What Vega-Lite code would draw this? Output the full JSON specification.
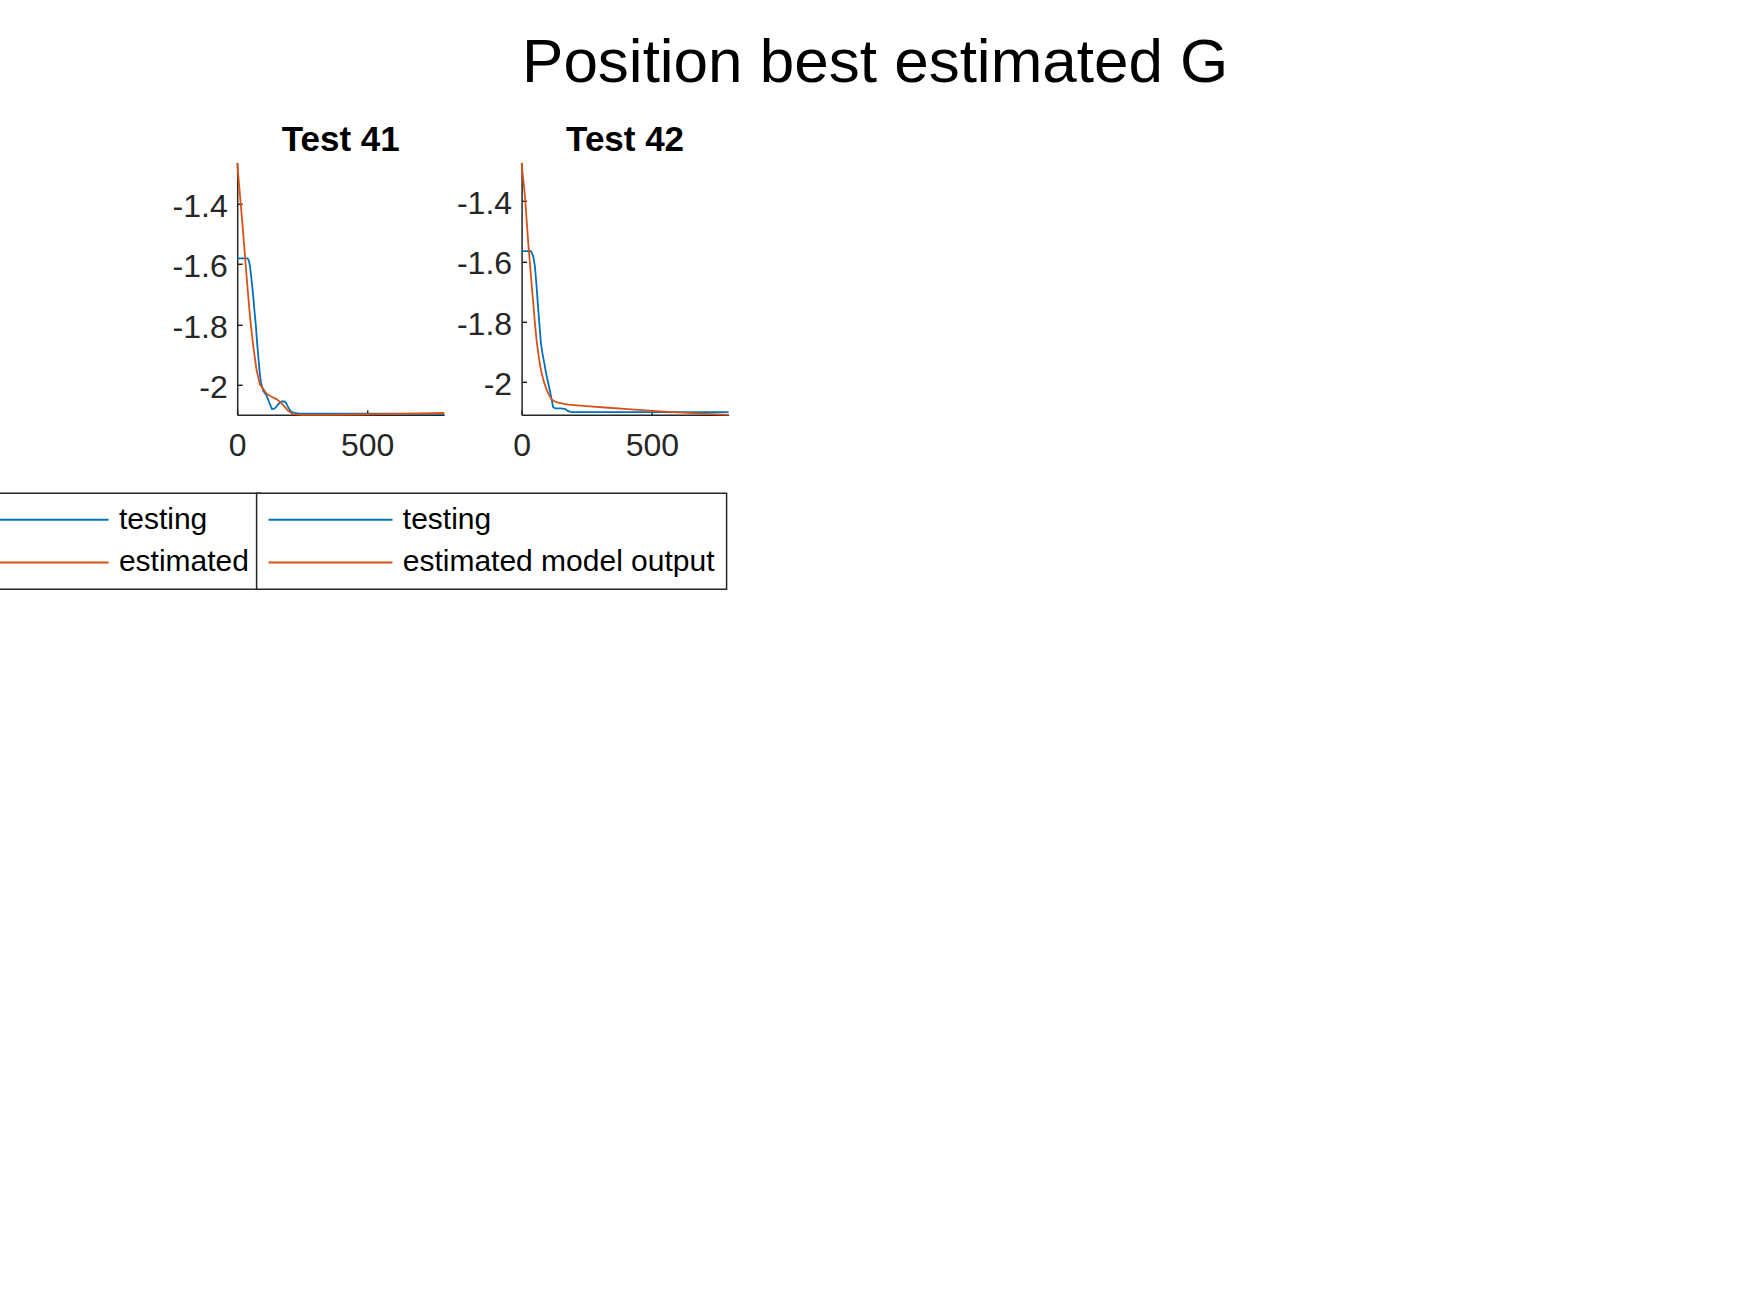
{
  "$schema": "https://vega.github.io/schema/vega-lite/v6.json",
  "autosize": {"type": "pad"},
  "padding": {"left": -28.8, "top": 31.8, "right": 20, "bottom": 20},
  "background": "white",
  "title": {
    "text": "Position best estimated G",
    "font": "Liberation Sans",
    "fontSize": 62,
    "fontWeight": "normal",
    "color": "#000000",
    "anchor": "middle",
    "baseline": "alphabetic",
    "dx": 638,
    "offset": -21.2
  },
  "bounds": "flush",
  "spacing": 77.4,
  "resolve": {
    "scale": {"color": "independent", "x": "independent", "y": "independent"},
    "legend": {"color": "independent"}
  },
  "datasets": {
    "p41": [
      {"x": 0, "y": -1.581, "series": "testing"},
      {"x": 20, "y": -1.581, "series": "testing"},
      {"x": 40, "y": -1.581, "series": "testing"},
      {"x": 45, "y": -1.588, "series": "testing"},
      {"x": 49, "y": -1.606, "series": "testing"},
      {"x": 55, "y": -1.65, "series": "testing"},
      {"x": 61.5, "y": -1.705, "series": "testing"},
      {"x": 67, "y": -1.76, "series": "testing"},
      {"x": 72, "y": -1.805, "series": "testing"},
      {"x": 76, "y": -1.855, "series": "testing"},
      {"x": 81, "y": -1.904, "series": "testing"},
      {"x": 86, "y": -1.955, "series": "testing"},
      {"x": 91, "y": -1.99, "series": "testing"},
      {"x": 100, "y": -2.02, "series": "testing"},
      {"x": 113, "y": -2.035, "series": "testing"},
      {"x": 124, "y": -2.06, "series": "testing"},
      {"x": 134, "y": -2.08, "series": "testing"},
      {"x": 143, "y": -2.079, "series": "testing"},
      {"x": 151, "y": -2.072, "series": "testing"},
      {"x": 160, "y": -2.062, "series": "testing"},
      {"x": 171, "y": -2.055, "series": "testing"},
      {"x": 180, "y": -2.055, "series": "testing"},
      {"x": 187, "y": -2.058, "series": "testing"},
      {"x": 195, "y": -2.072, "series": "testing"},
      {"x": 202, "y": -2.083, "series": "testing"},
      {"x": 209, "y": -2.089, "series": "testing"},
      {"x": 222, "y": -2.093, "series": "testing"},
      {"x": 240, "y": -2.095, "series": "testing"},
      {"x": 300, "y": -2.095, "series": "testing"},
      {"x": 400, "y": -2.095, "series": "testing"},
      {"x": 500, "y": -2.095, "series": "testing"},
      {"x": 600, "y": -2.095, "series": "testing"},
      {"x": 700, "y": -2.096, "series": "testing"},
      {"x": 796, "y": -2.096, "series": "testing"},
      {"x": 0, "y": -1.264, "series": "estimated"},
      {"x": 10, "y": -1.364, "series": "estimated"},
      {"x": 23, "y": -1.496, "series": "estimated"},
      {"x": 36, "y": -1.639, "series": "estimated"},
      {"x": 49, "y": -1.772, "series": "estimated"},
      {"x": 61.5, "y": -1.871, "series": "estimated"},
      {"x": 74, "y": -1.948, "series": "estimated"},
      {"x": 87, "y": -1.998, "series": "estimated"},
      {"x": 100, "y": -2.013, "series": "estimated"},
      {"x": 113, "y": -2.029, "series": "estimated"},
      {"x": 132, "y": -2.039, "series": "estimated"},
      {"x": 151, "y": -2.047, "series": "estimated"},
      {"x": 165, "y": -2.057, "series": "estimated"},
      {"x": 177, "y": -2.067, "series": "estimated"},
      {"x": 196, "y": -2.086, "series": "estimated"},
      {"x": 215, "y": -2.097, "series": "estimated"},
      {"x": 250, "y": -2.099, "series": "estimated"},
      {"x": 350, "y": -2.099, "series": "estimated"},
      {"x": 450, "y": -2.098, "series": "estimated"},
      {"x": 550, "y": -2.097, "series": "estimated"},
      {"x": 650, "y": -2.095, "series": "estimated"},
      {"x": 796, "y": -2.093, "series": "estimated"}
    ],
    "p42": [
      {"x": 0, "y": -1.566, "series": "testing"},
      {"x": 20, "y": -1.566, "series": "testing"},
      {"x": 36, "y": -1.566, "series": "testing"},
      {"x": 44.6, "y": -1.583, "series": "testing"},
      {"x": 51, "y": -1.616, "series": "testing"},
      {"x": 57.4, "y": -1.682, "series": "testing"},
      {"x": 63.8, "y": -1.759, "series": "testing"},
      {"x": 69, "y": -1.815, "series": "testing"},
      {"x": 74, "y": -1.87, "series": "testing"},
      {"x": 80, "y": -1.905, "series": "testing"},
      {"x": 86.7, "y": -1.936, "series": "testing"},
      {"x": 95, "y": -1.975, "series": "testing"},
      {"x": 102, "y": -2.002, "series": "testing"},
      {"x": 109, "y": -2.03, "series": "testing"},
      {"x": 115, "y": -2.057, "series": "testing"},
      {"x": 121, "y": -2.083, "series": "testing"},
      {"x": 130, "y": -2.087, "series": "testing"},
      {"x": 150, "y": -2.087, "series": "testing"},
      {"x": 166, "y": -2.088, "series": "testing"},
      {"x": 178.6, "y": -2.096, "series": "testing"},
      {"x": 191, "y": -2.099, "series": "testing"},
      {"x": 250, "y": -2.099, "series": "testing"},
      {"x": 400, "y": -2.099, "series": "testing"},
      {"x": 600, "y": -2.099, "series": "testing"},
      {"x": 794, "y": -2.099, "series": "testing"},
      {"x": 0, "y": -1.274, "series": "estimated model output"},
      {"x": 12.8, "y": -1.384, "series": "estimated model output"},
      {"x": 25.5, "y": -1.539, "series": "estimated model output"},
      {"x": 38, "y": -1.671, "series": "estimated model output"},
      {"x": 51, "y": -1.804, "series": "estimated model output"},
      {"x": 57, "y": -1.858, "series": "estimated model output"},
      {"x": 63.8, "y": -1.903, "series": "estimated model output"},
      {"x": 70, "y": -1.94, "series": "estimated model output"},
      {"x": 76.5, "y": -1.969, "series": "estimated model output"},
      {"x": 86, "y": -2.0, "series": "estimated model output"},
      {"x": 95.7, "y": -2.024, "series": "estimated model output"},
      {"x": 105, "y": -2.042, "series": "estimated model output"},
      {"x": 115, "y": -2.057, "series": "estimated model output"},
      {"x": 127, "y": -2.064, "series": "estimated model output"},
      {"x": 140, "y": -2.068, "series": "estimated model output"},
      {"x": 178.6, "y": -2.074, "series": "estimated model output"},
      {"x": 250, "y": -2.079, "series": "estimated model output"},
      {"x": 306, "y": -2.083, "series": "estimated model output"},
      {"x": 434, "y": -2.091, "series": "estimated model output"},
      {"x": 561, "y": -2.098, "series": "estimated model output"},
      {"x": 689, "y": -2.104, "series": "estimated model output"},
      {"x": 794, "y": -2.108, "series": "estimated model output"}
    ]
  },
  "hconcat": [
    {
      "width": 207,
      "height": 252,
      "title": {"text": "Test 41"},
      "data": {"name": "p41"},
      "mark": {"type": "line", "strokeWidth": 1.8},
      "encoding": {
        "x": {
          "field": "x", "type": "quantitative",
          "scale": {"domain": [0, 796], "nice": false, "zero": false},
          "axis": {"values": [0, 500], "title": null}
        },
        "y": {
          "field": "y", "type": "quantitative",
          "scale": {"domain": [-2.099, -1.264], "nice": false, "zero": false},
          "axis": {"values": [-2, -1.8, -1.6, -1.4], "title": null, "labelExpr": "replace(format(datum.value, '~g'), '−', '-')"}
        },
        "color": {
          "field": "series", "type": "nominal",
          "sort": ["testing", "estimated"],
          "scale": {"domain": ["testing", "estimated"], "range": ["#0072BD", "#D95319"]},
          "legend": {"orient": "none", "legendX": -264.5, "legendY": 330.4}
        }
      }
    },
    {
      "width": 207,
      "height": 252,
      "title": {"text": "Test 42"},
      "data": {"name": "p42"},
      "mark": {"type": "line", "strokeWidth": 1.8},
      "encoding": {
        "x": {
          "field": "x", "type": "quantitative",
          "scale": {"domain": [0, 794], "nice": false, "zero": false},
          "axis": {"values": [0, 500], "title": null}
        },
        "y": {
          "field": "y", "type": "quantitative",
          "scale": {"domain": [-2.108, -1.274], "nice": false, "zero": false},
          "axis": {"values": [-2, -1.8, -1.6, -1.4], "title": null, "labelExpr": "replace(format(datum.value, '~g'), '−', '-')"}
        },
        "color": {
          "field": "series", "type": "nominal",
          "sort": ["testing", "estimated model output"],
          "scale": {"domain": ["testing", "estimated model output"], "range": ["#0072BD", "#D95319"]},
          "legend": {"orient": "none", "legendX": -265, "legendY": 330.4}
        }
      }
    }
  ],
  "config": {
    "font": "Liberation Sans",
    "view": {"stroke": null},
    "title": {
      "font": "Liberation Sans",
      "fontSize": 35,
      "fontWeight": "bold",
      "color": "#000000",
      "anchor": "middle",
      "frame": "group",
      "baseline": "alphabetic",
      "offset": 1.3
    },
    "axis": {
      "grid": false,
      "labelFont": "Liberation Sans",
      "labelFontSize": 32,
      "labelColor": "#262626",
      "labelFlush": false,
      "labelOverlap": false,
      "domainColor": "#262626",
      "domainWidth": 1.5,
      "ticks": true,
      "tickColor": "#262626",
      "tickWidth": 1.5,
      "tickSize": -5
    },
    "axisY": {"labelPadding": 15, "labelOffset": 2.5},
    "axisX": {"labelPadding": 21},
    "legend": {
      "title": null,
      "symbolType": "M-6,0H6",
      "symbolSize": 427,
      "symbolStrokeWidth": 2,
      "symbolFillColor": "transparent",
      "symbolOffset": 47.4,
      "labelFont": "Liberation Sans",
      "labelFontSize": 30,
      "labelColor": "#000000",
      "labelOffset": 57.3,
      "labelLimit": 0,
      "padding": 11.5,
      "rowPadding": 12.7,
      "strokeColor": "#262626",
      "strokeWidth": 1.5,
      "fillColor": "#ffffff"
    }
  }
}
